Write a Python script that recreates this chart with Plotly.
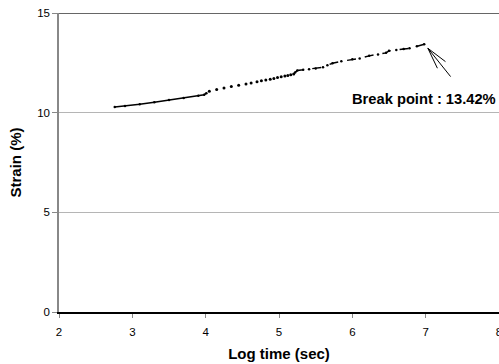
import plotly.graph_objects as go

# Data (log time in sec, strain in %)
x_seg1 = [2.76, 2.9, 3.1, 3.3, 3.5, 3.7, 3.9, 3.98, 4.01]
y_seg1 = [10.29, 10.33, 10.42, 10.52, 10.63, 10.74, 10.85, 10.90, 10.98]

x_seg2 = [4.05, 4.15, 4.25, 4.35, 4.45, 4.55, 4.62, 4.7, 4.76, 4.82, 4.88, 4.93, 4.98, 5.03, 5.08, 5.12, 5.16, 5.2]
y_seg2 = [11.08, 11.16, 11.24, 11.31, 11.38, 11.44, 11.49, 11.55, 11.60, 11.64, 11.68, 11.72, 11.76, 11.80, 11.84, 11.87, 11.90, 11.94]

x_seg3 = [5.22, 5.25, 5.33, 5.41, 5.5, 5.6, 5.66, 5.73, 5.85, 6.0, 6.1, 6.23, 6.35, 6.46, 6.5, 6.6, 6.7, 6.78, 6.88, 6.98]
y_seg3 = [12.02, 12.12, 12.15, 12.18, 12.22, 12.28, 12.38, 12.48, 12.58, 12.68, 12.72, 12.85, 12.92, 13.0, 13.1, 13.14, 13.19, 13.23, 13.33, 13.43]

x_ticks = [2, 3, 4, 5, 6, 7, 8]
y_ticks = [0, 5, 10, 15]

label_text = "Break point : 13.42%"
label_x, label_y = 6.98, 10.69

# arrow: tip, shaft end, two wing ends
arrow_tip = (7.03, 13.23)
arrow_tails = [(7.34, 11.81), (7.27, 12.56), (7.16, 12.23)]

fig = go.Figure()
fig.add_trace(go.Scatter(x=x_seg1, y=y_seg1, mode="lines+markers",
                         line=dict(color="black", width=1.5),
                         marker=dict(color="black", size=2.5)))
fig.add_trace(go.Scatter(x=x_seg2, y=y_seg2, mode="markers",
                         marker=dict(color="black", size=3)))
fig.add_trace(go.Scatter(x=x_seg3, y=y_seg3, mode="lines+markers",
                         line=dict(color="black", width=1.5, dash="dash"),
                         marker=dict(color="black", size=2.5)))

for tx, ty in arrow_tails:
    fig.add_shape(type="line", x0=arrow_tip[0], y0=arrow_tip[1], x1=tx, y1=ty,
                  xref="x", yref="y", line=dict(color="black", width=1))

# top border line at 15
fig.add_shape(type="line", x0=0, x1=1, xref="paper", y0=15, y1=15, yref="y",
              line=dict(color="#333333", width=1.5))

fig.add_annotation(x=label_x, y=label_y, text="<b>" + label_text + "</b>",
                   showarrow=False, xanchor="center", yanchor="middle",
                   font=dict(family="Liberation Sans, Arial", size=14.7, color="black"))

fig.update_layout(
    width=499, height=364,
    margin=dict(l=59, r=0, t=13, b=52, autoexpand=False),
    paper_bgcolor="white", plot_bgcolor="white",
    showlegend=False,
    font=dict(family="Liberation Sans, Arial", size=11.5, color="black"),
)
fig.update_xaxes(range=[2, 8], tickvals=x_ticks, ticks="outside", ticklen=4,
                 tickcolor="#888888", showgrid=False, zeroline=False,
                 showline=True, linecolor="black", linewidth=1.5,
                 tickfont=dict(size=11.5), ticklabeloverflow="allow",
                 ticklabelstandoff=4, automargin=False,
                 title=dict(text="<b>Log time (sec)</b>", font=dict(size=15), standoff=12))
fig.update_yaxes(range=[0, 15], tickvals=y_ticks, ticks="outside", ticklen=5,
                 tickcolor="#888888", showgrid=True, gridcolor="#b5b5b5", gridwidth=1,
                 zeroline=False, showline=True, linecolor="#888888", linewidth=1.5,
                 tickfont=dict(size=11.5), automargin=False,
                 title=dict(text="<b>Strain (%)</b>", font=dict(size=15), standoff=12))

fig.write_html("out.html")
